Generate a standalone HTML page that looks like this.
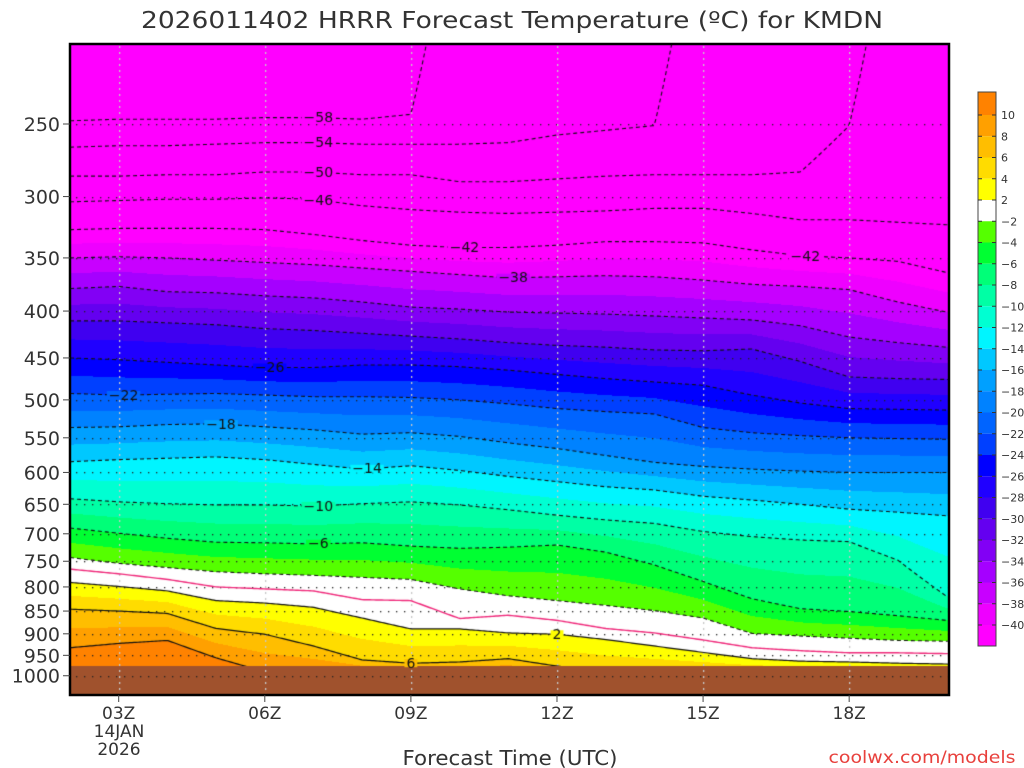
<!DOCTYPE html>
<html><head><meta charset="utf-8"><style>
html,body{margin:0;padding:0;background:#fff;width:1024px;height:768px;overflow:hidden}
#plot{position:absolute;left:70px;top:44px}
svg{position:absolute;left:0;top:0}
text{font-family:"DejaVu Sans","Liberation Sans",sans-serif;fill:#333}
</style></head><body>
<canvas id="plot" width="879" height="651"></canvas>
<svg id="ov" width="1024" height="768"></svg>
<script>
// ---- data ----
const hours=[2,3,4,5,6,7,8,9,10,11,12,13,14,15,16,17,18,19,20];
const isoTemps=[-58,-54,-50,-46,-42,-38,-34,-30,-26,-22,-18,-14,-10,-6,-2,0,2,6,10];
const isoM58=[248,247,247,247,246,246,247,244,120,120,120,120,120,120,120,120,120,120,120];
const isoM54=[265,264,264,263,262,262,263,263,263,262,257,254,251,120,120,120,120,120,120];
const isoM50=[285,285,284,284,282,282,284,284,289,289,287,285,284,284,284,282,251,120,120];
const isoM46=[304,303,302,302,301,302,307,310,312,313,312,311,309,309,313,318,318,320,322];
const isoM42=[326,325,325,325,326,330,335,339,341,341,339,336,336,337,343,348,350,353,363];
const isoM38=[350,349,350,352,354,356,359,362,365,368,367,366,367,370,374,376,379,391,401];
const isoM34=[378,376,381,382,385,387,391,396,398,401,402,403,405,407,409,415,427,433,438];
const isoM30=[410,410,412,414,418,420,423,426,429,433,436,438,441,442,440,454,472,474,475];
const isoM26=[450,452,455,458,461,461,458,458,460,464,469,474,478,482,494,504,511,512,513];
const isoM22=[492,494,493,492,494,496,496,497,500,505,511,515,518,536,543,547,550,551,552];
const isoM18=[536,535,532,531,535,539,545,543,548,557,565,575,585,591,595,598,600,600,600];
const isoM14=[584,581,579,577,581,588,595,590,597,606,614,622,627,637,643,650,658,663,669];
const isoM10=[641,646,649,651,651,653,649,646,651,659,668,676,682,696,705,711,714,748,819];
const isoM6=[690,699,708,715,716,718,716,722,726,724,720,733,757,789,824,845,851,860,870];
const isoM2=[743,754,762,770,774,777,781,785,804,818,828,838,849,865,899,905,910,915,917];
const iso0=[765,774,785,800,804,808,826,828,866,859,870,888,898,914,932,939,944,944,946];
const isoP2=[791,799,808,828,833,842,865,889,889,898,901,913,928,943,958,964,966,969,971];
const isoP6=[846,850,855,888,901,928,961,969,966,958,976,990,990,990,990,990,990,990,990];
const isoP10=[932,922,915,956,990,990,990,990,990,990,990,990,990,990,990,990,990,990,990];
const surfacePressure=976;
const labelTemps=[-58,-54,-50,-46,-42,-42,-38,-26,-22,-18,-14,-10,-6,2,6];
const labelHours=[7.1,7.1,7.1,7.1,10.1,17.1,11.1,6.1,3.1,5.1,8.1,7.1,7.1,12,9];
const yTicks=[250,300,350,400,450,500,550,600,650,700,750,800,850,900,950,1000];
const xTickHours=[3,6,9,12,15,18];
const xTickLabels=["03Z","06Z","09Z","12Z","15Z","18Z"];
const binEdges=[-40,-38,-36,-34,-32,-30,-28,-26,-24,-22,-20,-18,-16,-14,-12,-10,-8,-6,-4,-2,2,4,6,8,10];
const binColors=["#FF00FF","#EE00FF","#C800FF","#A500FF","#8200F5","#6400F0","#4000F0","#2000FF","#0000FF","#0040FF","#0064FF","#0082FF","#00A0FF","#00C8FF","#00F5FF","#00FFD2","#00FFA5","#00FF78","#00FF32","#55FF00","#FFFFFF","#FFFF00","#FFDC00","#FFBE00","#FFA000","#FF8200"];
const legendLabels=["10","8","6","4","2","−2","−4","−6","−8","−10","−12","−14","−16","−18","−20","−22","−24","−26","−28","−30","−32","−34","−36","−38","−40"];
const isos=[isoM58,isoM54,isoM50,isoM46,isoM42,isoM38,isoM34,isoM30,isoM26,isoM22,isoM18,isoM14,isoM10,isoM6,isoM2,iso0,isoP2,isoP6,isoP10];

// ---- axes ----
const X0=70,X1=949,Y0=44,Y1=695;
const xOf=h=>X0+(h-2)*(X1-X0)/18.05;
const hOf=x=>2+(x-X0)*18.05/(X1-X0);
const yOf=p=>124+398*Math.log(p/250);
function isoP(i,h){let a=isos[i];let t=(h-2);let k=Math.max(0,Math.min(17,Math.floor(t)));let f=Math.min(1,Math.max(0,t-k));return a[k]+(a[k+1]-a[k])*f;}
function colorOf(T){let i=0;while(i<binEdges.length&&T>=binEdges[i])i++;return binColors[i];}
function hexRGB(c){return [parseInt(c.substr(1,2),16),parseInt(c.substr(3,2),16),parseInt(c.substr(5,2),16)];}
function tempAt(ys,y){const n=ys.length;
  if(y<=ys[0])return isoTemps[0]-2;
  for(let i=0;i<n-1;i++){if(y<=ys[i+1]){const d=ys[i+1]-ys[i];return d<=0?isoTemps[i+1]:isoTemps[i]+(isoTemps[i+1]-isoTemps[i])*(y-ys[i])/d;}}
  return isoTemps[n-1]+2;}

const cv=document.getElementById('plot'),ctx=cv.getContext('2d');
const W=cv.width,H=cv.height;
const img=ctx.createImageData(W,H);
const rgbBins=binColors.map(hexRGB);
const ground=yOf(surfacePressure);
for(let px=0;px<W;px++){
  const h=hOf(X0+px+0.5);
  const ys=isos.map((a,i)=>yOf(isoP(i,h)));
  for(let py=0;py<H;py++){
    const y=Y0+py+0.5;let c;
    if(y>=ground)c=[160,82,45];
    else{const T=tempAt(ys,y);let i=0;while(i<binEdges.length&&T>=binEdges[i])i++;c=rgbBins[i];}
    const o=(py*W+px)*4;img.data[o]=c[0];img.data[o+1]=c[1];img.data[o+2]=c[2];img.data[o+3]=255;}
}
ctx.putImageData(img,0,0);
// grid
ctx.fillStyle='#222';
yTicks.forEach(p=>{const y=Math.round(yOf(p)-Y0);for(let x=6;x<W;x+=8)ctx.fillRect(x,y,1.3,1.3);});
ctx.fillStyle='#c8c8c8';
xTickHours.forEach(h=>{const x=Math.round(xOf(h)-X0);for(let y=2;y<H;y+=6)ctx.fillRect(x,y,1.3,2);});
// contours
ctx.save();ctx.beginPath();ctx.rect(0,0,W,ground-Y0);ctx.clip();
isoTemps.forEach((T,i)=>{
  ctx.beginPath();
  for(let px=0;px<=W;px+=2){const h=hOf(X0+px);const y=yOf(isoP(i,h))-Y0;if(px==0)ctx.moveTo(px,y);else ctx.lineTo(px,y);}
  if(T<0){ctx.setLineDash([4,3]);ctx.strokeStyle='#111';ctx.lineWidth=1.1;}
  else if(T==0){ctx.setLineDash([]);ctx.strokeStyle='#F0287A';ctx.lineWidth=1.4;}
  else {ctx.setLineDash([]);ctx.strokeStyle='#111';ctx.lineWidth=1.2;}
  ctx.stroke();});
ctx.restore();ctx.setLineDash([]);
// labels
ctx.font='14px "DejaVu Sans", sans-serif';ctx.textAlign='center';ctx.textBaseline='middle';
labelTemps.forEach((T,k)=>{const i=isoTemps.indexOf(T);const h=labelHours[k];const x=xOf(h)-X0;const y=yOf(isoP(i,h))-Y0;
  const s=T<0?'−'+(-T):String(T);const w=ctx.measureText(s).width+4;
  const ysA=isos.map((a,j)=>yOf(isoP(j,h)));const Tb=tempAt(ysA,y+Y0+3);
  ctx.fillStyle=y+Y0>=ground?'#A0522D':colorOf(Tb);ctx.fillRect(x-w/2,y-4,w,8);
  ctx.fillStyle='#111';ctx.fillText(s,x,y+1);});

// ---- overlay svg ----
const NS='http://www.w3.org/2000/svg',sv=document.getElementById('ov');
function el(t,a,txt){const e=document.createElementNS(NS,t);for(const k in a)e.setAttribute(k,a[k]);if(txt!==undefined)e.textContent=txt;sv.appendChild(e);return e;}
let e;
e=el('rect',{x:X0,y:Y0,width:X1-X0,height:Y1-Y0,fill:'none',stroke:'#000','stroke-width':2.5});

e=el('text',{x:512,y:28,'font-size':23,'text-anchor':'middle',textLength:742,lengthAdjust:'spacingAndGlyphs'},'2026011402 HRRR Forecast Temperature (ºC) for KMDN');

yTicks.forEach(p=>{const y=yOf(p);
  e=el('line',{x1:63,x2:70,y1:y,y2:y,stroke:'#444','stroke-width':1});
  
  e=el('text',{x:60,y:y+7,'font-size':19,'text-anchor':'end'},String(p));
  });
xTickHours.forEach((h,k)=>{const x=xOf(h);
  e=el('line',{x1:x,x2:x,y1:Y1,y2:Y1+7,stroke:'#444','stroke-width':1});
  
  e=el('text',{x:x,y:719,'font-size':17,'text-anchor':'middle'},xTickLabels[k]);
  });
e=el('text',{x:119,y:737,'font-size':17,'text-anchor':'middle'},'14JAN');

e=el('text',{x:119,y:755,'font-size':17,'text-anchor':'middle'},'2026');

e=el('text',{x:510,y:765,'font-size':20,'text-anchor':'middle',textLength:215,lengthAdjust:'spacingAndGlyphs'},'Forecast Time (UTC)');

e=el('text',{x:922,y:763,'font-size':17,'text-anchor':'middle',fill:'#E8403C',style:'fill:#E8403C',textLength:187,lengthAdjust:'spacingAndGlyphs'},'coolwx.com/models');

// colorbar
const LX=978,LW=18,LT=92,LB=646,L0=115,LS=21.25;
for(let b=0;b<binColors.length;b++){
  const idx=binColors.length-1-b;
  const top=b==0?LT:L0+(b-1)*LS;const bot=b==binColors.length-1?LB:L0+b*LS;
  e=el('rect',{x:LX,y:top,width:LW,height:bot-top,fill:binColors[idx]});
  }
e=el('rect',{x:LX,y:LT,width:LW,height:LB-LT,fill:'none',stroke:'#444','stroke-width':1});

legendLabels.forEach((s,k)=>{const y=L0+k*LS;
  e=el('line',{x1:LX,x2:LX+4,y1:y,y2:y,stroke:'#333','stroke-width':1});
  
  e=el('line',{x1:LX+LW-4,x2:LX+LW,y1:y,y2:y,stroke:'#333','stroke-width':1});
  
  e=el('text',{x:1001,y:y+4,'font-size':11},s);
  });
</script>
</body></html>
